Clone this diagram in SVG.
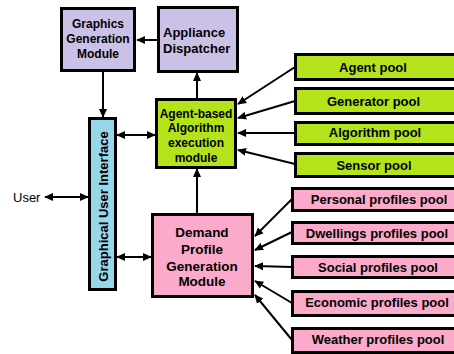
<svg xmlns="http://www.w3.org/2000/svg" width="454" height="354" viewBox="0 0 454 354">
<style>
.box{stroke:#000;stroke-width:3}
.lav{fill:#cbc0e6}
.blue{fill:#98d6ea}
.lime{fill:#b5e31b}
.pink{fill:#fbaacb}
.t{font-family:"Liberation Sans",Arial,sans-serif;font-weight:bold;fill:#000;text-anchor:middle}
.c{stroke:#000;stroke-width:2;fill:none}
</style>
<defs>
<marker id="ah" viewBox="0 0 10 10" refX="9" refY="5" markerWidth="9" markerHeight="9" orient="auto-start-reverse" markerUnits="userSpaceOnUse">
<path d="M0,0.5 L10,5 L0,9.5 z" fill="#000"/>
</marker>
</defs>
<rect width="454" height="354" fill="#fff"/>
<g id="connectors">
<line class="c" x1="158" y1="40" x2="137" y2="40" marker-end="url(#ah)"/>
<line class="c" x1="103" y1="70" x2="103" y2="117" marker-end="url(#ah)"/>
<line class="c" x1="197" y1="99" x2="197" y2="73" marker-end="url(#ah)"/>
<line class="c" x1="117" y1="135" x2="155" y2="135" marker-start="url(#ah)" marker-end="url(#ah)"/>
<line class="c" x1="45" y1="197" x2="88" y2="197" marker-start="url(#ah)" marker-end="url(#ah)"/>
<line class="c" x1="117" y1="257" x2="151" y2="257" marker-start="url(#ah)" marker-end="url(#ah)"/>
<line class="c" x1="197" y1="214" x2="197" y2="169" marker-end="url(#ah)"/>
<line class="c" x1="295" y1="67" x2="238" y2="104" marker-end="url(#ah)"/>
<line class="c" x1="295" y1="101" x2="238" y2="118" marker-end="url(#ah)"/>
<line class="c" x1="295" y1="133" x2="238" y2="133" marker-end="url(#ah)"/>
<line class="c" x1="295" y1="164" x2="238" y2="150" marker-end="url(#ah)"/>
<line class="c" x1="292" y1="199" x2="255" y2="236" marker-end="url(#ah)"/>
<line class="c" x1="292" y1="232" x2="255" y2="250" marker-end="url(#ah)"/>
<line class="c" x1="292" y1="267" x2="255" y2="266" marker-end="url(#ah)"/>
<line class="c" x1="292" y1="303" x2="255" y2="281" marker-end="url(#ah)"/>
<line class="c" x1="292" y1="340" x2="255" y2="295" marker-end="url(#ah)"/>
</g>
<g id="graphics">
<rect class="box lav" x="61.5" y="8.5" width="73" height="62"/>
<text class="t" font-size="12" x="98" y="28">Graphics</text>
<text class="t" font-size="12" x="98" y="43">Generation</text>
<text class="t" font-size="12" x="98" y="58">Module</text>
</g>
<g id="appliance">
<rect class="box lav" x="158.5" y="7.5" width="79" height="64"/>
<text class="t" font-size="13" x="163" y="37" style="text-anchor:start">Appliance</text>
<text class="t" font-size="13" x="163" y="53" style="text-anchor:start">Dispatcher</text>
</g>
<g id="gui">
<rect class="box blue" x="89.5" y="118.5" width="26" height="171"/>
<text class="t" font-size="13" transform="translate(108,206.5) rotate(-90)" x="0" y="0">Graphical User Interface</text>
</g>
<g id="user">
<text font-family="Liberation Sans,Arial,sans-serif" font-size="13" x="13" y="201.5">User</text>
</g>
<g id="agent">
<rect class="box lime" x="156.5" y="99.5" width="79" height="68"/>
<text class="t" font-size="12" x="196" y="117.5">Agent-based</text>
<text class="t" font-size="12" x="196" y="132">Algorithm</text>
<text class="t" font-size="12" x="196" y="147">execution</text>
<text class="t" font-size="12" x="196" y="161.5">module</text>
</g>
<g id="demand">
<rect class="box pink" x="152.5" y="214.5" width="100" height="82"/>
<text class="t" font-size="13.5" x="202" y="237">Demand</text>
<text class="t" font-size="13.5" x="202" y="254">Profile</text>
<text class="t" font-size="13.5" x="202" y="270.5">Generation</text>
<text class="t" font-size="13.5" x="202" y="286">Module</text>
</g>
<g id="agentpool">
<rect class="box lime" x="295.5" y="54.5" width="170" height="25"/>
<text class="t" font-size="13" x="373" y="71.5">Agent pool</text>
</g>
<g id="generatorpool">
<rect class="box lime" x="295.5" y="88.5" width="170" height="25"/>
<text class="t" font-size="13" x="373.5" y="105.5">Generator pool</text>
</g>
<g id="algorithmpool">
<rect class="box lime" x="295.5" y="122.5" width="170" height="22"/>
<text class="t" font-size="13" x="375" y="137">Algorithm pool</text>
</g>
<g id="sensorpool">
<rect class="box lime" x="295.5" y="153.5" width="170" height="23"/>
<text class="t" font-size="13" x="374" y="169.5">Sensor pool</text>
</g>
<g id="personal">
<rect class="box pink" x="292.5" y="188.5" width="175" height="22"/>
<text class="t" font-size="13" x="379" y="203.5">Personal profiles pool</text>
</g>
<g id="dwellings">
<rect class="box pink" x="292.5" y="222.5" width="175" height="21"/>
<text class="t" font-size="13" x="377" y="237.5">Dwellings profiles pool</text>
</g>
<g id="social">
<rect class="box pink" x="292.5" y="256.5" width="175" height="21"/>
<text class="t" font-size="13" x="378" y="271.5">Social profiles pool</text>
</g>
<g id="economic">
<rect class="box pink" x="292.5" y="291.5" width="175" height="24"/>
<text class="t" font-size="13" x="377" y="306.5">Economic profiles pool</text>
</g>
<g id="weather">
<rect class="box pink" x="292.5" y="328.5" width="175" height="24"/>
<text class="t" font-size="13" x="378" y="344">Weather profiles pool</text>
</g>
</svg>
